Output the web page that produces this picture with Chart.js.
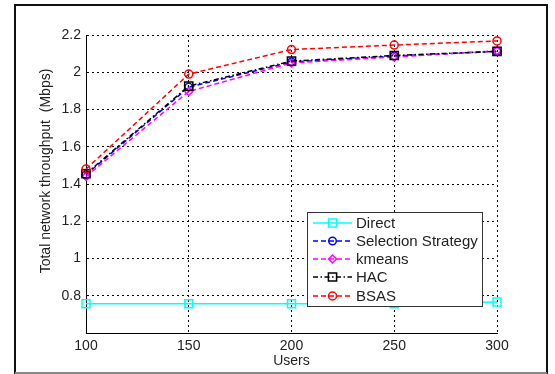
<!DOCTYPE html>
<html lang="en">
<head>
<meta charset="UTF-8">
<title>Total network throughput vs users</title>
<style>
html, body { margin: 0; padding: 0; background: #fff; }
#wrap { width: 555px; height: 374px; }
</style>
</head>
<body>
<div id="wrap"><canvas id="myChart" width="555" height="374"></canvas></div>
<script src="https://cdn.jsdelivr.net/npm/chart.js@4/dist/chart.umd.min.js"></script>
<script>
// data
var users = [100, 150, 200, 250, 300];
var direct = [0.757, 0.757, 0.757, 0.757, 0.766];
var selection = [1.45, 1.92, 2.055, 2.087, 2.112];
var kmeans = [1.44, 1.897, 2.05, 2.082, 2.115];
var hac = [1.455, 1.926, 2.06, 2.09, 2.112];
var bsas = [1.48, 1.99, 2.122, 2.146, 2.168];
var yTicks = [0.8, 1, 1.2, 1.4, 1.6, 1.8, 2, 2.2];

var FONT = '"Liberation Sans", Arial, sans-serif';

function pts(vals) {
  var out = [];
  for (var i = 0; i < users.length; i++) out.push({x: users[i], y: vals[i]});
  return out;
}

var series = [
  {label: 'Direct', data: direct, color: '#00ffff', dash: [], style: 'rect', r: 5.6, order: 5},
  {label: 'Selection Strategy', data: selection, color: '#0000ff', dash: [5, 3], style: 'circle', r: 3.8, order: 4},
  {label: 'kmeans', data: kmeans, color: '#ff00ff', dash: [5, 3], style: 'rectRot', r: 4, order: 3},
  {label: 'HAC', data: hac, color: '#000000', dash: [5, 2.5, 1.5, 2.5], style: 'rect', r: 5.8, order: 2},
  {label: 'BSAS', data: bsas, color: '#ff0000', dash: [5, 3], style: 'circle', r: 4, order: 1}
];

var datasets = series.map(function(s) {
  return {
    label: s.label,
    data: pts(s.data),
    borderColor: s.color,
    backgroundColor: 'transparent',
    borderWidth: 1.5,
    borderDash: s.dash,
    pointStyle: s.style,
    pointRadius: s.r,
    pointBorderWidth: 1.5,
    pointBorderColor: s.color,
    pointBackgroundColor: 'transparent',
    tension: 0,
    clip: false,
    order: s.order
  };
});

// frame, axis titles and the boxed legend inside the plot
var decor = {
  id: 'decor',
  afterDraw: function(chart) {
    var ctx = chart.ctx;
    var ca = chart.chartArea;
    ctx.save();

    // legend
    var lx = 307, ly = 212, lw = 175, lh = 94;
    ctx.fillStyle = '#fff';
    ctx.fillRect(lx, ly, lw, lh);
    ctx.strokeStyle = '#333';
    ctx.lineWidth = 1;
    ctx.setLineDash([]);
    ctx.strokeRect(lx + 0.5, ly + 0.5, lw, lh);
    var rows = [223, 241, 259, 277, 296];
    ctx.textBaseline = 'middle';
    ctx.textAlign = 'left';
    series.forEach(function(s, i) {
      var y = rows[i];
      ctx.strokeStyle = s.color;
      ctx.lineWidth = 1.5;
      ctx.setLineDash(s.dash);
      ctx.beginPath();
      ctx.moveTo(313, y);
      ctx.lineTo(352, y);
      ctx.stroke();
      ctx.setLineDash([]);
      ctx.fillStyle = 'rgba(0,0,0,0)';
      Chart.helpers.drawPoint(ctx, {pointStyle: s.style, radius: s.r, borderWidth: 1.5}, 332.5, y);
      ctx.font = '15px ' + FONT;
      ctx.fillStyle = '#222';
      ctx.fillText(s.label, 356, y + 1);
    });

    // axis titles
    ctx.fillStyle = '#222';
    ctx.font = '14px ' + FONT;
    ctx.textAlign = 'center';
    ctx.fillText('Users', (ca.left + ca.right) / 2, 361);
    ctx.translate(46, 171);
    ctx.rotate(-Math.PI / 2);
    ctx.fillText('Total network throughput  (Mbps)', 0, 0);
    ctx.setTransform(1, 0, 0, 1, 0, 0);

    // outer figure frame
    ctx.strokeStyle = '#111';
    ctx.lineWidth = 2;
    ctx.beginPath();
    ctx.moveTo(15, 374);
    ctx.lineTo(15, 5);
    ctx.lineTo(547, 5);
    ctx.lineTo(547, 374);
    ctx.stroke();
    ctx.strokeStyle = '#888';
    ctx.beginPath();
    ctx.moveTo(15, 373);
    ctx.lineTo(547, 373);
    ctx.stroke();
    ctx.restore();
  }
};

var ctx = document.getElementById('myChart').getContext('2d');
var chart = new Chart(ctx, {
  type: 'line',
  data: {datasets: datasets},
  plugins: [decor],
  options: {
    responsive: false,
    animation: false,
    layout: {padding: {left: 0, top: 35, right: 58, bottom: 0}},
    plugins: {legend: {display: false}, tooltip: {enabled: false}},
    scales: {
      x: {
        type: 'linear',
        min: 100,
        max: 300,
        afterFit: function(scale) { scale.height = 41; },
        afterBuildTicks: function(scale) {
          scale.ticks = users.map(function(v) { return {value: v}; });
        },
        ticks: {
          color: '#222',
          font: {family: FONT, size: 14},
          padding: 5,
          maxRotation: 0
        },
        grid: {color: '#000', drawTicks: false, lineWidth: 1},
        border: {display: true, color: '#000', width: 1, dash: [2, 3]}
      },
      y: {
        min: 0.6,
        max: 2.2,
        afterFit: function(scale) { scale.width = 86; },
        afterBuildTicks: function(scale) {
          scale.ticks = yTicks.map(function(v) { return {value: v}; });
        },
        ticks: {
          color: '#222',
          font: {family: FONT, size: 14},
          padding: 5,
          callback: function(v) { return String(+v.toFixed(1)); }
        },
        grid: {color: '#000', drawTicks: false, lineWidth: 1},
        border: {display: true, color: '#000', width: 1, dash: [2, 3]}
      }
    }
  }
});
</script>
</body>
</html>
